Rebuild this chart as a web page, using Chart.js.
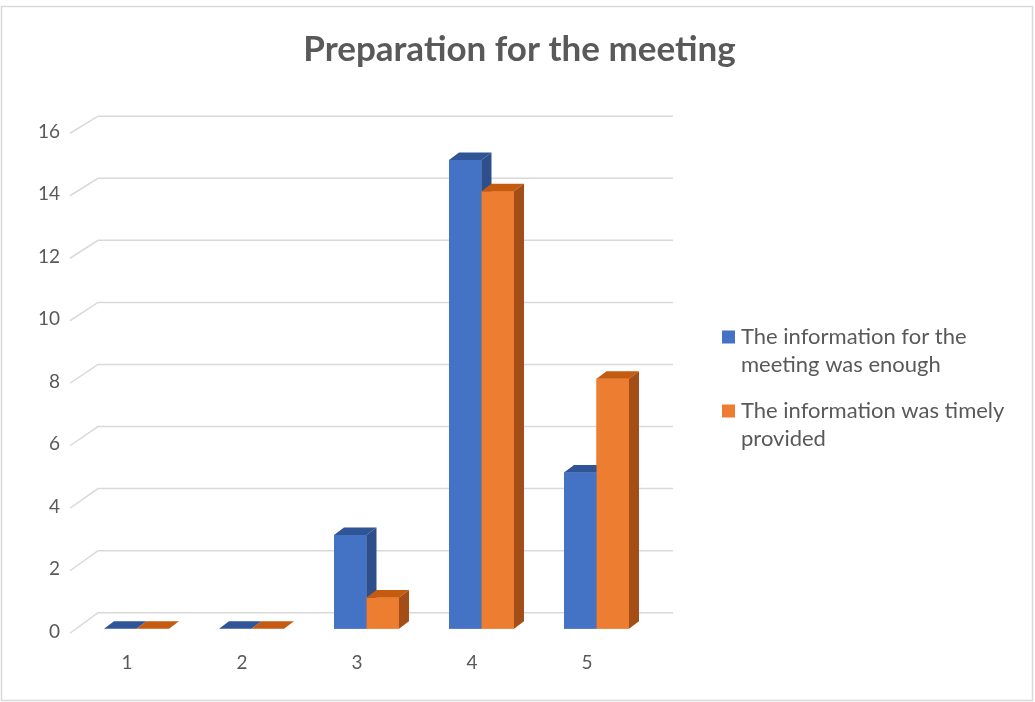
<!DOCTYPE html>
<html>
<head>
<meta charset="utf-8">
<script src="https://cdn.jsdelivr.net/npm/chart.js@4.4.1/dist/chart.umd.min.js"></script>
<style>
  html, body { margin: 0; padding: 0; background: #fff; }
  #wrap { width: 1035px; height: 702px; }
</style>
</head>
<body>
<div id="wrap"><canvas id="myChart" width="1035" height="702"></canvas></div>
<script>
// data
const categories = ['1', '2', '3', '4', '5'];
const infoEnough = [0, 0, 3, 15, 5];
const infoTimely = [0, 0, 1, 14, 8];
const seriesNames = ['The information for the meeting was enough', 'The information was timely provided'];
const legendLines = [['The information for the', 'meeting was enough'], ['The information was timely', 'provided']];
const yTicks = [0, 2, 4, 6, 8, 10, 12, 14, 16];
const chartTitle = 'Preparation for the meeting';

const FONT = 'Lato, "Open Sans", sans-serif';
const TEXT = '#595959';
const GRID = '#d9d9d9';

// front / top / side colours for the 3d bars
const faces = [
    { front: '#4472c4', top: '#2f5597', side: '#2e4f8a' },
    { front: '#ed7d31', top: '#c55a11', side: '#a34e17' }
];

// outer frame + title (title centred on the whole chart, not the plot)
const framePlugin = {
    id: 'frame',
    beforeDraw(chart) {
        const ctx = chart.ctx;
        ctx.save();
        ctx.fillStyle = '#fff';
        ctx.fillRect(0, 0, chart.width, chart.height);
        ctx.strokeStyle = GRID;
        ctx.lineWidth = 1.5;
        ctx.strokeRect(1.5, 6.5, 1031, 694);
        ctx.font = 'bold 35px ' + FONT;
        ctx.fillStyle = TEXT;
        ctx.textAlign = 'center';
        ctx.textBaseline = 'middle';
        ctx.fillText(chartTitle, 519.5, 50);
        ctx.restore();
    }
};

// gridlines on the back wall with the little slanted bit on the left
const wallPlugin = {
    id: 'wall',
    beforeDatasetsDraw(chart) {
        const ctx = chart.ctx;
        const y = chart.scales.y;
        ctx.save();
        ctx.strokeStyle = GRID;
        ctx.lineWidth = 1.5;
        y.ticks.forEach(t => {
            const py = y.getPixelForValue(t.value);
            const front = py + 4.5;
            const back = 612.7 + (py - 628.75) * 0.993;
            ctx.beginPath();
            ctx.moveTo(70, front);
            ctx.lineTo(98, back);
            ctx.lineTo(673, back);
            ctx.stroke();
        });
        ctx.restore();
    }
};

// draws the front again plus top and side faces, dataset 0 first
const bars3dPlugin = {
    id: 'bars3d',
    afterDatasetsDraw(chart) {
        const ctx = chart.ctx;
        const dx = 10, dy = -7.5;
        ctx.save();
        chart.data.datasets.forEach((ds, i) => {
            const meta = chart.getDatasetMeta(i);
            const c = faces[i];
            meta.data.forEach(bar => {
                const p = bar.getProps(['x', 'y', 'base', 'width'], true);
                const l = p.x - p.width / 2, r = p.x + p.width / 2;
                ctx.fillStyle = c.front;
                ctx.fillRect(l, p.y, p.width, p.base - p.y);
                ctx.fillStyle = c.top;
                ctx.beginPath();
                ctx.moveTo(l, p.y);
                ctx.lineTo(l + dx, p.y + dy);
                ctx.lineTo(r + dx, p.y + dy);
                ctx.lineTo(r, p.y);
                ctx.closePath();
                ctx.fill();
                if (p.base - p.y > 0.5) {
                    ctx.fillStyle = c.side;
                    ctx.beginPath();
                    ctx.moveTo(r, p.y);
                    ctx.lineTo(r + dx, p.y + dy);
                    ctx.lineTo(r + dx, p.base + dy);
                    ctx.lineTo(r, p.base);
                    ctx.closePath();
                    ctx.fill();
                }
            });
        });
        ctx.restore();
    }
};

// legend on the right, two lines per item
const legendPlugin = {
    id: 'sideLegend',
    afterDraw(chart) {
        const ctx = chart.ctx;
        const x = 722, lh = 28;
        const starts = [337, 411];
        ctx.save();
        ctx.font = '22px ' + FONT;
        ctx.textBaseline = 'middle';
        legendLines.forEach((lines, i) => {
            ctx.fillStyle = faces[i].front;
            ctx.fillRect(x, starts[i] - 6.5, 13, 13);
            ctx.fillStyle = TEXT;
            lines.forEach((ln, j) => ctx.fillText(ln, x + 19, starts[i] + j * lh));
        });
        ctx.restore();
    }
};

const data = {
    labels: categories,
    datasets: [
        { label: seriesNames[0], data: infoEnough, backgroundColor: faces[0].front },
        { label: seriesNames[1], data: infoTimely, backgroundColor: faces[1].front }
    ]
};

const config = {
    type: 'bar',
    data: data,
    options: {
        responsive: false,
        animation: false,
        layout: { padding: { left: 0, right: 381, top: 128.75, bottom: 0 } },
        datasets: { bar: { categoryPercentage: 0.565, barPercentage: 1 } },
        plugins: {
            legend: { display: false },
            tooltip: { enabled: false },
            title: { display: false }
        },
        scales: {
            x: {
                grid: { display: false, drawTicks: false },
                border: { display: false },
                ticks: { color: TEXT, font: { family: FONT, size: 19 }, padding: 23, labelOffset: -9.5 },
                afterFit(s) { s.height = 73.25; }
            },
            y: {
                min: 0,
                max: 16,
                afterBuildTicks(s) { s.ticks = yTicks.map(v => ({ value: v })); },
                grid: { display: false, drawTicks: false },
                border: { display: false },
                ticks: { color: TEXT, font: { family: FONT, size: 19 }, padding: 19, labelOffset: 3 },
                afterFit(s) { s.width = 79; }
            }
        }
    },
    plugins: [framePlugin, wallPlugin, bars3dPlugin, legendPlugin]
};

const myChart = new Chart(document.getElementById('myChart'), config);
</script>
</body>
</html>
